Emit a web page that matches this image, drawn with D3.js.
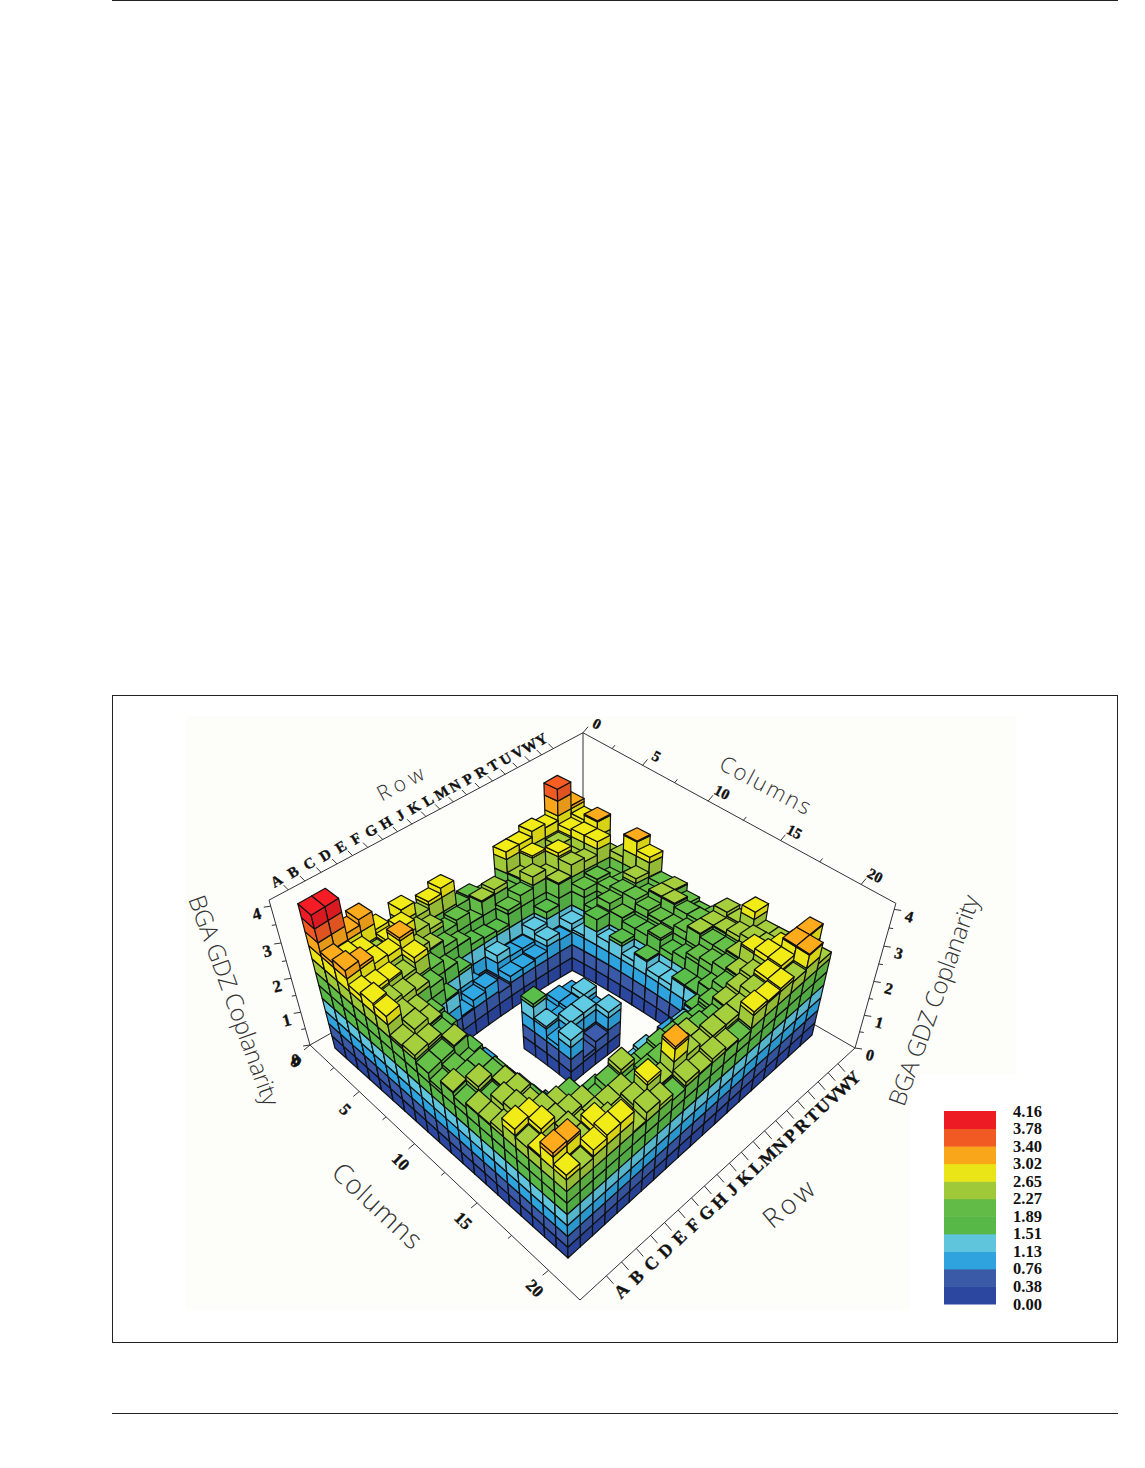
<!DOCTYPE html>
<html><head><meta charset="utf-8">
<script src="https://d3js.org/d3.v7.min.js"></script>
<style>html,body{margin:0;padding:0;background:#fff}svg{display:block}</style>
</head><body><svg id="c" width="1145" height="1468"></svg>
<script>
// ---------- data ----------
const rowLabels = ["A","B","C","D","E","F","G","H","J","K","L","M","N","P","R","T","U","V","W","Y"];
const colTicks = [0,5,10,15,20];
const zTicks = [0,1,2,3,4];
const levels = [0.00,0.38,0.76,1.13,1.51,1.89,2.27,2.65,3.02,3.40,3.78,4.16];
const bandColors = ["#2c479f","#3a5aa8","#2fa3dd","#5fc5dd","#57b848","#62bb46","#a0c93a","#eae516","#faa61a","#f15a22","#ed1c24"];
const _ = null;
// one list per column 1..20, entries for rows A..Y
const col01 = [4.15,4.15,3.2,3.35,2.85,2.5,2.95,2.55,2.75,2.9,2.2,2.25,2.05,2.0,2.85,2.85,3.0,2.9,3.7,3.1];
const col02 = [3.15,3.0,2.9,2.6,2.75,2.9,2.55,2.4,2.1,2.2,1.9,2.3,2.4,2.1,2.3,2.7,2.2,2.6,2.8,2.9];
const col03 = [3.25,3.1,2.9,2.85,3.1,2.5,2.3,2.1,1.9,1.7,1.65,1.6,2.0,2.2,2.5,2.3,2.75,2.4,2.85,3.05];
const col04 = [2.85,2.75,2.7,2.5,2.8,2.2,1.9,1.6,0.9,0.7,1.35,1.1,1.1,1.4,1.7,2.3,2.6,2.5,2.85,2.3];
const col05 = [2.95,2.6,2.5,2.4,2.2,1.55,0.8,1.0,1.1,0.7,0.95,0.95,1.0,1.3,1.1,1.35,2.1,2.2,2.0,2.45];
const col06 = [2.9,2.5,2.3,1.9,0.75,_,_,_,_,_,_,_,_,_,_,1.2,1.7,2.1,2.05,3.05];
const col07 = [2.35,2.5,2.3,1.8,0.8,_,_,_,_,_,_,_,_,_,_,1.85,2.1,2.2,2.4,2.8];
const col08 = [2.4,2.35,2.2,1.6,0.9,_,_,_,_,_,_,_,_,_,_,1.4,1.9,2.2,2.1,2.25];
const col09 = [2.2,2.2,2.3,1.65,0.95,_,_,_,1.6,0.95,1.1,1.0,_,_,_,1.6,1.8,2.1,2.3,2.3];
const col10 = [2.0,2.1,1.9,1.1,0.8,_,_,_,1.2,1.0,1.1,1.3,_,_,_,1.3,1.8,2.0,2.3,2.1];
const col11 = [2.3,2.2,2.2,1.6,0.9,_,_,_,0.9,1.3,1.3,1.0,_,_,_,1.55,1.95,2.0,2.2,2.0];
const col12 = [2.15,2.4,2.2,1.6,0.9,_,_,_,1.35,0.5,0.7,1.3,_,_,_,1.3,1.7,2.1,2.2,2.05];
const col13 = [2.3,2.2,2.3,1.7,1.0,_,_,_,_,_,_,_,_,_,_,1.3,1.8,2.3,2.3,2.45];
const col14 = [2.3,2.5,2.4,1.7,1.15,_,_,_,_,_,_,_,_,_,_,1.55,2.0,2.2,2.3,2.35];
const col15 = [2.4,2.6,2.3,1.8,1.15,_,_,_,_,_,_,_,_,0.85,_,1.55,2.1,2.2,2.4,2.85];
const col16 = [2.85,2.7,2.5,2.3,2.2,1.5,1.6,1.4,1.5,1.4,1.5,1.3,1.2,1.4,1.55,1.9,2.2,2.3,2.5,2.4];
const col17 = [2.6,2.8,2.5,2.4,2.3,2.0,2.2,2.4,1.9,1.9,2.0,1.9,1.9,1.8,2.0,2.2,2.3,2.7,2.5,2.4];
const col18 = [2.7,2.4,2.6,2.3,2.3,2.3,2.3,2.1,2.2,2.2,2.05,2.3,2.2,2.1,2.3,2.4,2.5,2.8,2.7,2.5];
const col19 = [3.15,3.1,2.6,2.85,2.5,2.3,2.4,2.75,2.3,3.1,2.5,2.3,2.4,2.4,2.4,2.6,2.75,2.8,3.05,3.05];
const col20 = [2.8,2.6,2.85,2.95,2.95,2.3,2.55,2.4,2.2,2.4,2.3,2.4,2.3,2.2,2.75,2.7,2.75,2.6,3.05,2.45];
const columns = [col01,col02,col03,col04,col05,col06,col07,col08,col09,col10,col11,col12,col13,col14,col15,col16,col17,col18,col19,col20];

// ---------- projection ----------
function homography(p){
  const [[x0,y0],[x1,y1],[x2,y2],[x3,y3]]=p;
  const dx1=x1-x2,dx2=x3-x2,dy1=y1-y2,dy2=y3-y2,sx=x0-x1+x2-x3,sy=y0-y1+y2-y3,den=dx1*dy2-dx2*dy1;
  const g=(sx*dy2-dx2*sy)/den,h=(dx1*sy-sx*dy1)/den;
  const a=x1-x0+g*x1,b=x3-x0+h*x3,d=y1-y0+g*y1,e=y3-y0+h*y3;
  return (u,v)=>{const w=g*u+h*v+1;return [(a*u+b*v+x0)/w,(d*u+e*v+y0)/w];};
}
function warpedBilinear(p,bump){
  const [P0,P1,P2,P3]=p;
  return (u,v)=>{
    const f=(i)=>(1-u)*(1-v)*P0[i]+u*(1-v)*P1[i]+u*v*P2[i]+(1-u)*v*P3[i];
    return [f(0),f(1)-bump*16*u*(1-u)*v*(1-v)];
  };
}
const VX=583,VY=2010,EXTRA=704,K=0.0192;
function lift(P,z){
  const dy=VY-P[1], l=(dy+EXTRA)*(1/(1-K*z)-1);
  return [P[0]+(P[0]-VX)/dy*l, P[1]-l];
}
const frame=homography([[310,1045],[580,1300],[855,1048],[583,891]]);
const grid =warpedBilinear([[335,1048],[568,1258],[812,1035],[572,906]],15);
const cU=d3.scaleLinear().domain([0.5,20.5]).range([0,1]);
const rV=d3.scaleLinear().domain([0.5,20.5]).range([0,1]);
const axisU=d3.scaleLinear().domain([0,22]).range([0,1]);
const axisVFront=d3.scaleLinear().domain([0,19]).range([0.075,0.92]);
const axisVBack=d3.scaleLinear().domain([0,19]).range([0.05,0.885]);
const Z=4.16;
const colorOf=d3.scaleThreshold().domain(levels.slice(1,-1)).range(bandColors);
const pt=(c,r,z)=>lift(grid(cU(c),rV(r)),z);
const fp=(u,v,z)=>lift(frame(u,v),z);
const line=d3.line();
const svg=d3.select("#c");

// page furniture
svg.append("rect").attr("x",186).attr("y",716).attr("width",830).attr("height",595).attr("fill","#fdfefa");
svg.append("rect").attr("x",910).attr("y",1075).attr("width",108).attr("height",236).attr("fill","#ffffff");
svg.append("rect").attr("x",112.5).attr("y",695.5).attr("width",1005).attr("height",647).attr("fill","none").attr("stroke","#222").attr("stroke-width",1);
[[0.5],[1413.5]].forEach(([y])=>svg.append("line").attr("x1",112).attr("x2",1118).attr("y1",y).attr("y2",y).attr("stroke","#222").attr("stroke-width",1));

// frame
const axG=svg.append("g").attr("fill","none").attr("stroke","#333").attr("stroke-width",1);
const drawL=(pts)=>axG.append("path").attr("d",line(pts));
const L=[0,0],B=[1,0],R=[1,1],T=[0,1];
const zp=(c,z)=>fp(c[0],c[1],z);
drawL([zp(L,Z),zp(T,Z),zp(R,Z)]);
drawL([zp(L,0),zp(L,Z)]);
drawL([zp(R,0),zp(R,Z)]);
drawL([zp(T,0),zp(T,Z)]);
drawL([zp(L,0),zp(B,0),zp(R,0)]);
drawL([zp(L,0),zp(T,0),zp(R,0)]);

const txt=(x,y,s,rot,size,opts={})=>svg.append("text").attr("transform",`translate(${x},${y}) rotate(${rot})`)
  .attr("text-anchor","middle").attr("dominant-baseline","central")
  .attr("font-family",opts.family||"'Liberation Serif',serif").attr("font-weight",opts.weight||700)
  .attr("font-size",size).attr("fill",opts.fill||"#111")
  .attr("stroke",opts.family?"none":"#111").attr("stroke-width",opts.family?0:0.35).text(s);
const tick=(p,dx,dy)=>drawL([p,[p[0]+dx,p[1]+dy]]);

// z axes
d3.range(0,4.01,0.5).forEach(z=>{
  const major=Number.isInteger(z), f=major?1:0.6;
  tick(zp(L,z),-7*f,1*f); tick(zp(R,z),7*f,1*f);
});
zTicks.forEach(z=>{
  const a=zp(L,z),b=zp(R,z);
  txt(a[0]-14,a[1]+(z?8:15),z,-15,17);
  txt(b[0]+15,b[1]+7,z,15,16);
});
// column axes
d3.range(0,20.01,2.5).forEach(c=>{
  const u=axisU(c), major=c%5===0, f=major?1:0.6;
  tick(fp(u,0,0),-6*f,5*f);
  tick(fp(u,1,Z),5*f,-6*f);
});
colTicks.forEach(c=>{
  const u=axisU(c), a=fp(u,0,0), b=fp(u,1,Z);
  txt(a[0]-14,a[1]+(c?18:17),c,45,17);
  txt(b[0]+14,b[1]-9,c,28,15);
});
// row axes
rowLabels.forEach((s,i)=>{
  const a=fp(1,axisVFront(i),0), b=fp(0,axisVBack(i),Z);
  tick(a,7,8); tick(b,-5,-5);
  txt(a[0]+15,a[1]+15,s,-45,18);
  txt(b[0]-12,b[1]-9,s,-32,15);
});
// titles
const tf={family:"'Open Sans',sans-serif",weight:300,fill:"#333"};
txt(235,1000,"BGA GDZ Coplanarity",70,24,tf).attr("textLength",222);
txt(933,1000,"BGA GDZ Coplanarity",-70,24,tf).attr("textLength",222);
txt(378,1205,"Columns",43,27,tf).attr("textLength",112);
txt(766,784,"Columns",28,22,tf).attr("textLength",100);
txt(788,1203,"Row",-40,27,tf).attr("textLength",58);
txt(400,783,"Row",-28,21,tf).attr("textLength",50);

// bars
const bars=[];
columns.forEach((vals,ci)=>vals.forEach((v,ri)=>{ if(v!=null) bars.push({c:ci+1,r:ri+1,v}); }));
bars.sort((a,b)=>(a.c-a.r)-(b.c-b.r)||(a.c+a.r)-(b.c+b.r));
const H=0.5;
const shade=(col,f)=>{const c=d3.rgb(col);return d3.rgb(Math.min(255,c.r*f),Math.min(255,c.g*f),Math.min(255,c.b*f)).formatHex();};
const bg=svg.append("g").attr("stroke","#101010").attr("stroke-width",1.2).attr("stroke-linejoin","round");
bars.forEach(b=>{
  const c0=b.c-H,c1=b.c+H,r0=b.r-H,r1=b.r+H;
  const bounds=levels.filter(l=>l<b.v).concat([b.v]);
  const g=bg.append("g");
  d3.pairs(bounds).forEach(([z0,z1])=>{
    const col=colorOf((z0+z1)/2);
    g.append("path").attr("fill",shade(col,1.0)).attr("d",line([pt(c0,r0,z0),pt(c1,r0,z0),pt(c1,r0,z1),pt(c0,r0,z1)])+"Z");
    g.append("path").attr("fill",shade(col,0.92)).attr("d",line([pt(c1,r0,z0),pt(c1,r1,z0),pt(c1,r1,z1),pt(c1,r0,z1)])+"Z");
  });
  g.append("path").attr("fill",shade(colorOf(b.v-1e-6),1.03)).attr("d",line([pt(c0,r0,b.v),pt(c1,r0,b.v),pt(c1,r1,b.v),pt(c0,r1,b.v)])+"Z");
});

// legend
const legY=d3.scaleLinear().domain([0,11]).range([1304,1111]);
const lg=svg.append("g");
lg.selectAll("rect").data(bandColors).join("rect").attr("x",944).attr("width",52)
  .attr("y",(d,i)=>legY(i+1)).attr("height",(d,i)=>legY(i)-legY(i+1)+0.5).attr("fill",d=>d);
lg.selectAll("text").data(levels).join("text").attr("x",1013).attr("y",(d,i)=>legY(i)).attr("dominant-baseline","central")
  .attr("font-family","'Liberation Serif',serif").attr("font-weight",700).attr("font-size",16.5).attr("fill","#111")
  .text(d=>d.toFixed(2));
</script></body></html>
